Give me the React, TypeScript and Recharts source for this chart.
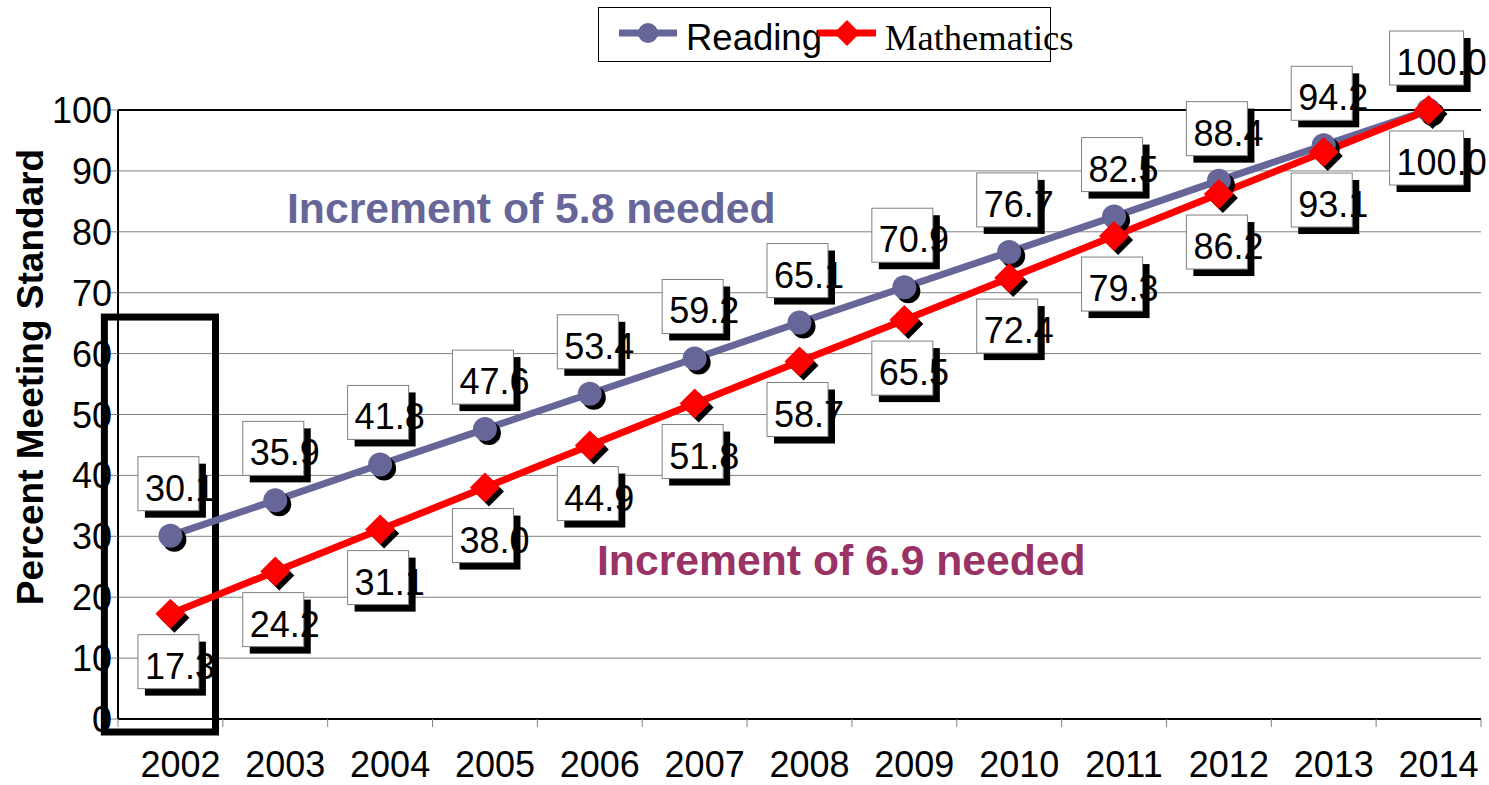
import React from "react";
import {
    LineChart,
    Line,
    XAxis,
    YAxis,
    CartesianGrid,
    ReferenceLine,
    ReferenceArea,
} from "recharts";

const years = ["2002", "2003", "2004", "2005", "2006", "2007", "2008", "2009", "2010", "2011", "2012", "2013", "2014"];
const readingValues = [30.1, 35.9, 41.8, 47.6, 53.4, 59.2, 65.1, 70.9, 76.7, 82.5, 88.4, 94.2, 100.0];
const mathValues = [17.3, 24.2, 31.1, 38.0, 44.9, 51.8, 58.7, 65.5, 72.4, 79.3, 86.2, 93.1, 100.0];
const yTicks = [0, 10, 20, 30, 40, 50, 60, 70, 80, 90, 100];

const READING = "#666699";
const MATH = "#FF0000";
const NOTE_MATH = "#993366";
const SANS = '"Liberation Sans", Arial, sans-serif';
const SERIF = '"Liberation Serif", "Times New Roman", serif';

const W = 1489;
const H = 785;
const Y_AXIS_W = 118;
const X_AXIS_H = 66;
const MARGIN = { top: 110, right: 8, left: 0, bottom: 0 };
const HALF_BAND = (W - Y_AXIS_W - MARGIN.right) / years.length / 2;

const data = years.map((year, i) => ({ year, reading: readingValues[i], math: mathValues[i] }));

const series = [
    { key: "reading", name: "Reading", color: READING, shape: "circle", font: SANS },
    { key: "math", name: "Mathematics", color: MATH, shape: "diamond", font: SERIF },
];

function diamondPoints(cx: number, cy: number, s: number) {
    return `${cx},${cy - s} ${cx + s},${cy} ${cx},${cy + s} ${cx - s},${cy}`;
}

function CircleDot({ cx, cy }: any) {
    if (cx == null || cy == null) return null;
    return (
        <g>
            <circle cx={cx + 4} cy={cy + 4} r={12} fill="#000" />
            <circle cx={cx} cy={cy} r={12} fill={READING} />
        </g>
    );
}

function DiamondDot({ cx, cy }: any) {
    if (cx == null || cy == null) return null;
    return (
        <g>
            <polygon points={diamondPoints(cx + 4, cy + 4, 15)} fill="#000" />
            <polygon points={diamondPoints(cx, cy, 15)} fill={MATH} />
        </g>
    );
}

// white value box with a black drop shadow, above or below the point
function ValueBox({ x, y, value, below }: any) {
    if (x == null || y == null || value == null) return null;
    const text = Number(value).toFixed(1);
    const w = text.length > 4 ? 74 : 61;
    const h = 54;
    const bx = x - w / 2 - 2;
    const by = below ? y + 21 : y - 25 - h;
    return (
        <g>
            <rect x={bx + 7} y={by + 7} width={w} height={h} fill="#000" />
            <rect x={bx} y={by} width={w} height={h} fill="#fff" stroke="#808080" strokeWidth={1} />
            <text x={bx + 7} y={by + 44} fontSize={36} fontFamily={SANS} fill="#000">
                {text}
            </text>
        </g>
    );
}

function XTick({ x, y, payload, index }: any) {
    return (
        <g>
            <line x1={x - HALF_BAND} x2={x - HALF_BAND} y1={y} y2={y + 8} stroke="#808080" strokeWidth={1} />
            {index === years.length - 1 && (
                <line x1={x + HALF_BAND} x2={x + HALF_BAND} y1={y} y2={y + 8} stroke="#808080" strokeWidth={1} />
            )}
            <text x={x + 10} y={y + 58} textAnchor="middle" fontSize={36} fontFamily={SANS} fill="#000">
                {payload.value}
            </text>
        </g>
    );
}

function YTick({ x, y, payload }: any) {
    return (
        <text x={x + 5} y={y + 13} textAnchor="end" fontSize={36} fontFamily={SANS} fill="#000">
            {payload.value}
        </text>
    );
}

function Overlay() {
    return (
        <svg
            width={W}
            height={H}
            style={{ position: "absolute", left: 0, top: 0, pointerEvents: "none" }}
        >
            {/* legend */}
            <rect x={598.5} y={7.5} width={452} height={54} fill="#fff" stroke="#000" strokeWidth={1} />
            {series.map((s, i) => {
                const lx = i === 0 ? 619 : 818;
                const cx = lx + 29;
                return (
                    <g key={s.key}>
                        <line x1={lx} x2={lx + 58} y1={33} y2={33} stroke={s.color} strokeWidth={7} />
                        {s.shape === "circle" ? (
                            <circle cx={cx} cy={33} r={10} fill={s.color} />
                        ) : (
                            <polygon points={diamondPoints(cx, 33, 13)} fill={s.color} />
                        )}
                        <text x={lx + 67} y={50} fontSize={36.5} fontFamily={s.font} fill="#000">
                            {s.name}
                        </text>
                    </g>
                );
            })}

            {/* annotations */}
            <text x={287} y={223} fontSize={42.7} fontWeight="bold" fontFamily={SANS} fill={READING}>
                Increment of 5.8 needed
            </text>
            <text x={597} y={575} fontSize={42.7} fontWeight="bold" fontFamily={SANS} fill={NOTE_MATH}>
                Increment of 6.9 needed
            </text>

            {/* y axis title */}
            <text
                x={0}
                y={0}
                transform="translate(43, 377) rotate(-90)"
                textAnchor="middle"
                fontSize={37}
                fontWeight="bold"
                fontFamily={SANS}
                fill="#000"
            >
                Percent Meeting Standard
            </text>
        </svg>
    );
}

export default function App() {
    return (
        <div style={{ position: "absolute", left: 0, top: 0, width: W, height: H, background: "#fff" }}>
            <LineChart width={W} height={H} data={data} margin={MARGIN}>
                <CartesianGrid vertical={false} stroke="#808080" strokeWidth={1} />
                <XAxis
                    dataKey="year"
                    height={X_AXIS_H}
                    padding={{ left: HALF_BAND, right: HALF_BAND }}
                    axisLine={{ stroke: "#000", strokeWidth: 2 }}
                    tickLine={false}
                    tickSize={0}
                    tickMargin={0}
                    interval={0}
                    tick={<XTick />}
                />
                <YAxis
                    width={Y_AXIS_W}
                    domain={[0, 100]}
                    ticks={yTicks}
                    interval={0}
                    axisLine={{ stroke: "#000", strokeWidth: 2 }}
                    tickLine={{ stroke: "#808080" }}
                    tickSize={11}
                    tickMargin={0}
                    tick={<YTick />}
                />
                <YAxis
                    yAxisId="frame"
                    orientation="right"
                    width={0}
                    domain={[0, 100]}
                    tick={false}
                    tickLine={false}
                    axisLine={{ stroke: "#000", strokeWidth: 2 }}
                />
                <ReferenceLine y={100} stroke="#000" strokeWidth={2} />
                <ReferenceArea
                    x1="2002"
                    x2="2003"
                    y1={0}
                    y2={66}
                    ifOverflow="visible"
                    shape={(p: any) => (
                        <rect
                            x={p.x - 0.63 * p.width}
                            y={p.y}
                            width={1.06 * p.width}
                            height={p.height + 13}
                            fill="none"
                            stroke="#000"
                            strokeWidth={7}
                        />
                    )}
                />
                <Line
                    dataKey="reading"
                    name="Reading"
                    stroke={READING}
                    strokeWidth={7}
                    isAnimationActive={false}
                    activeDot={false}
                    dot={(p: any) => <CircleDot key={`r${p.index}`} {...p} />}
                    label={(p: any) => <ValueBox key={`rl${p.index}`} {...p} below={false} />}
                />
                <Line
                    dataKey="math"
                    name="Mathematics"
                    stroke={MATH}
                    strokeWidth={7}
                    isAnimationActive={false}
                    activeDot={false}
                    dot={(p: any) => <DiamondDot key={`m${p.index}`} {...p} />}
                    label={(p: any) => <ValueBox key={`ml${p.index}`} {...p} below={true} />}
                />
            </LineChart>
            <Overlay />
        </div>
    );
}
